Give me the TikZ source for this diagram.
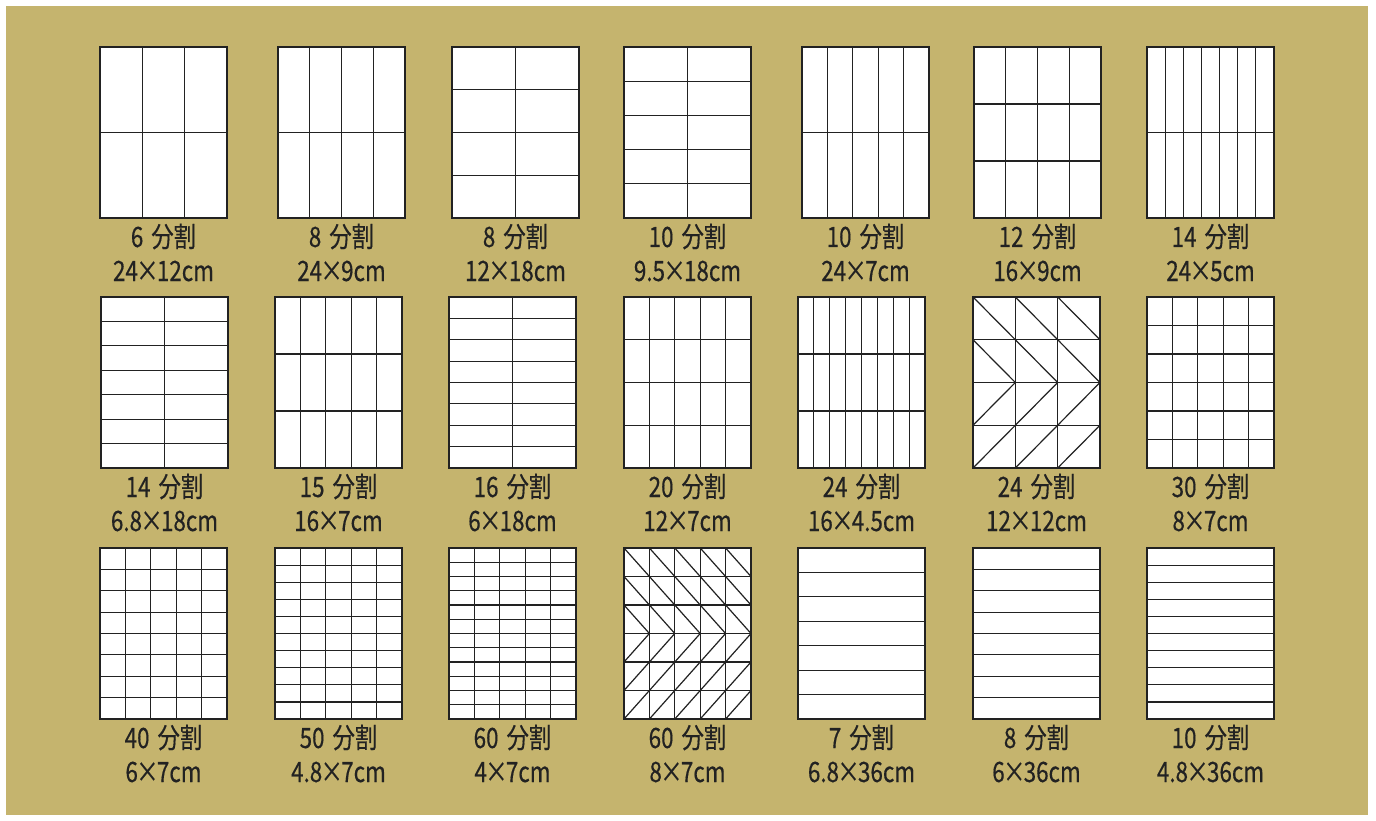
\documentclass[tikz,border=0pt]{standalone}
\usepackage{fontspec}
\newfontfamily\jpfont[FakeStretch=0.8,FakeBold=0.4]{Noto Sans CJK JP}
\definecolor{gold}{RGB}{197,180,110}
\definecolor{ink}{RGB}{34,34,34}
\newcommand\tms{\makebox[19pt]{×}}
\newcommand\gap{\hspace{8pt}}
\tikzset{
  sheet/.style={draw=ink,line width=1.5pt,fill=white,inner sep=0pt,outer sep=0pt,
    minimum width=127pt,minimum height=171pt,anchor=north west},
  gridline/.style={draw=ink,line width=1.2pt},
  lab/.style={font=\jpfont\fontsize{28}{28}\selectfont,text=ink,inner sep=0pt,anchor=base}
}
% #1 name, #2 x, #3 y, #4 cols, #5 rows, #6 line1, #7 line2
\newcommand\panelgrid[7]{%
  \node[sheet] (#1) at (#2,#3) {};
  \ifnum#4>1
    \pgfmathtruncatemacro\pgcolsm{#4-1}%
    \foreach \i in {1,...,\pgcolsm}{\draw[gridline] ({#2+127*\i/#4},#3) -- ({#2+127*\i/#4},{#3+171});}
  \fi
  \ifnum#5>1
    \pgfmathtruncatemacro\pgrowsm{#5-1}%
    \foreach \j in {1,...,\pgrowsm}{\draw[gridline] (#2,{#3+171*\j/#5}) -- ({#2+127},{#3+171*\j/#5});}
  \fi
  \draw[draw=ink,line width=1.5pt] (#1.north west) rectangle (#1.south east);
  \node[lab] (#1-a) at ({#2+63.5},{#3+171+29}) {#6};
  \node[lab] (#1-b) at ({#2+63.5},{#3+171+63}) {#7};
}
% diagonals: #1 x, #2 y, #3 cols, #4 rows
\newcommand\diagonals[4]{%
  \pgfmathtruncatemacro\pghc{#3-1}%
  \pgfmathtruncatemacro\pghr{#4/2-1}%
  \pgfmathtruncatemacro\pghs{#4/2}%
  \pgfmathtruncatemacro\pghe{#4-1}%
  \foreach \c in {0,...,\pghc}{
    \foreach \r in {0,...,\pghr}{
      \draw[gridline] ({#1+127*\c/#3},{#2+171*\r/#4}) -- ({#1+127*(\c+1)/#3},{#2+171*(\r+1)/#4});
    }
    \foreach \r in {\pghs,...,\pghe}{
      \draw[gridline] ({#1+127*\c/#3},{#2+171*(\r+1)/#4}) -- ({#1+127*(\c+1)/#3},{#2+171*\r/#4});
    }
  }
}
\begin{document}
\begin{tikzpicture}[x=1pt,y=-1pt]
\useasboundingbox (0,0) rectangle (1376,821);
\fill[white] (0,0) rectangle (1376,821);
\fill[gold] (6,6) rectangle (1368,815);
% row 1
\panelgrid{p11}{100}{47}{3}{2}{6\gap 分割}{24\tms 12cm}
\panelgrid{p12}{278}{47}{4}{2}{8\gap 分割}{24\tms 9cm}
\panelgrid{p13}{452}{47}{2}{4}{8\gap 分割}{12\tms 18cm}
\panelgrid{p14}{624}{47}{2}{5}{10\gap 分割}{9.5\tms 18cm}
\panelgrid{p15}{802}{47}{5}{2}{10\gap 分割}{24\tms 7cm}
\panelgrid{p16}{974}{47}{4}{3}{12\gap 分割}{16\tms 9cm}
\panelgrid{p17}{1147}{47}{7}{2}{14\gap 分割}{24\tms 5cm}
% row 2
\panelgrid{p21}{101}{297}{2}{7}{14\gap 分割}{6.8\tms 18cm}
\panelgrid{p22}{275}{297}{5}{3}{15\gap 分割}{16\tms 7cm}
\panelgrid{p23}{449}{297}{2}{8}{16\gap 分割}{6\tms 18cm}
\panelgrid{p24}{624}{297}{5}{4}{20\gap 分割}{12\tms 7cm}
\panelgrid{p25}{798}{297}{8}{3}{24\gap 分割}{16\tms 4.5cm}
\panelgrid{p26}{973}{297}{3}{4}{24\gap 分割}{12\tms 12cm}
\diagonals{973}{297}{3}{4}
\panelgrid{p27}{1147}{297}{5}{6}{30\gap 分割}{8\tms 7cm}
% row 3
\panelgrid{p31}{100}{548}{5}{8}{40\gap 分割}{6\tms 7cm}
\panelgrid{p32}{275}{548}{5}{10}{50\gap 分割}{4.8\tms 7cm}
\panelgrid{p33}{449}{548}{5}{12}{60\gap 分割}{4\tms 7cm}
\panelgrid{p34}{624}{548}{5}{6}{60\gap 分割}{8\tms 7cm}
\diagonals{624}{548}{5}{6}
\panelgrid{p35}{798}{548}{1}{7}{7\gap 分割}{6.8\tms 36cm}
\panelgrid{p36}{973}{548}{1}{8}{8\gap 分割}{6\tms 36cm}
\panelgrid{p37}{1147}{548}{1}{10}{10\gap 分割}{4.8\tms 36cm}
\end{tikzpicture}
\end{document}
